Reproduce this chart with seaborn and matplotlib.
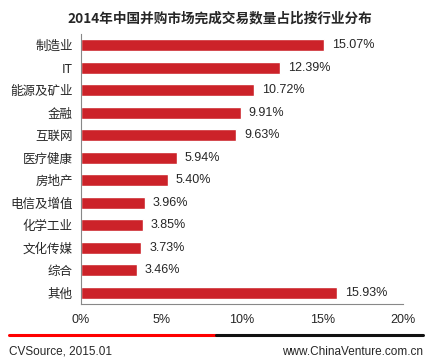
import matplotlib
matplotlib.use("Agg")
import matplotlib.pyplot as plt
import seaborn as sns
import pandas as pd
from matplotlib.lines import Line2D

categories = ["制造业", "IT", "能源及矿业", "金融", "互联网", "医疗健康", "房地产",
              "电信及增值", "化学工业", "文化传媒", "综合", "其他"]
values = [15.07, 12.39, 10.72, 9.91, 9.63, 5.94, 5.40, 3.96, 3.85, 3.73, 3.46, 15.93]
xticks = [0, 5, 10, 15, 20]
xtick_labels = ["0%", "5%", "10%", "15%", "20%"]
title = "2014年中国并购市场完成交易数量占比按行业分布"
source = "CVSource, 2015.01"
site = "www.ChinaVenture.com.cn"

sns.set_style("white")
plt.rcParams['font.family'] = ['Liberation Sans', 'Noto Sans CJK SC', 'DejaVu Sans']

df = pd.DataFrame({"cat": categories, "val": values})

fig = plt.figure(figsize=(4.32, 3.64), dpi=100)
ax = fig.add_axes([81/432, 1-304/364, (403-81)/432, (304-34)/364])
sns.barplot(data=df, x="val", y="cat", color="#CC2229", width=0.54, ax=ax,
            saturation=1, order=categories)

ax.set_xlim(0, 20)
ax.set_ylim(len(categories)-0.5, -0.5)
ax.set_xticks(xticks)
ax.set_xticklabels(xtick_labels, fontsize=9)
ax.set_xlabel("")
ax.set_ylabel("")
ax.tick_params(axis="y", length=0, pad=6, labelsize=9)
ax.tick_params(axis="x", direction="in", length=4, color="#888888", pad=7.5)
for lab in ax.get_yticklabels():
    lab.set_family(['Noto Sans CJK SC', 'DejaVu Sans'])
for s in ["top", "right"]:
    ax.spines[s].set_visible(False)
for s in ["left", "bottom"]:
    ax.spines[s].set_color("#888888")
    ax.spines[s].set_linewidth(0.8)

for i, v in enumerate(values):
    ax.text(v + 0.5, i, f"{v:.2f}%", va="center", ha="left", fontsize=9)

fig.text(220/432, 1-18/364, title, ha="center", va="center", fontsize=9.8,
         fontweight="bold", family=['Noto Sans CJK SC', 'DejaVu Sans'])

fig.add_artist(Line2D([9/432, 216/432], [1-335/364]*2, color="#FF0000", lw=2.2,
                      transform=fig.transFigure))
fig.add_artist(Line2D([216/432, 423/432], [1-335/364]*2, color="#111111", lw=2.2,
                      transform=fig.transFigure))
fig.text(9/432, 1-352/364, source, ha="left", va="center", fontsize=8.5)
fig.text(423/432, 1-352/364, site, ha="right", va="center", fontsize=8.5)

fig.savefig("out.png", dpi=100, facecolor="white")
